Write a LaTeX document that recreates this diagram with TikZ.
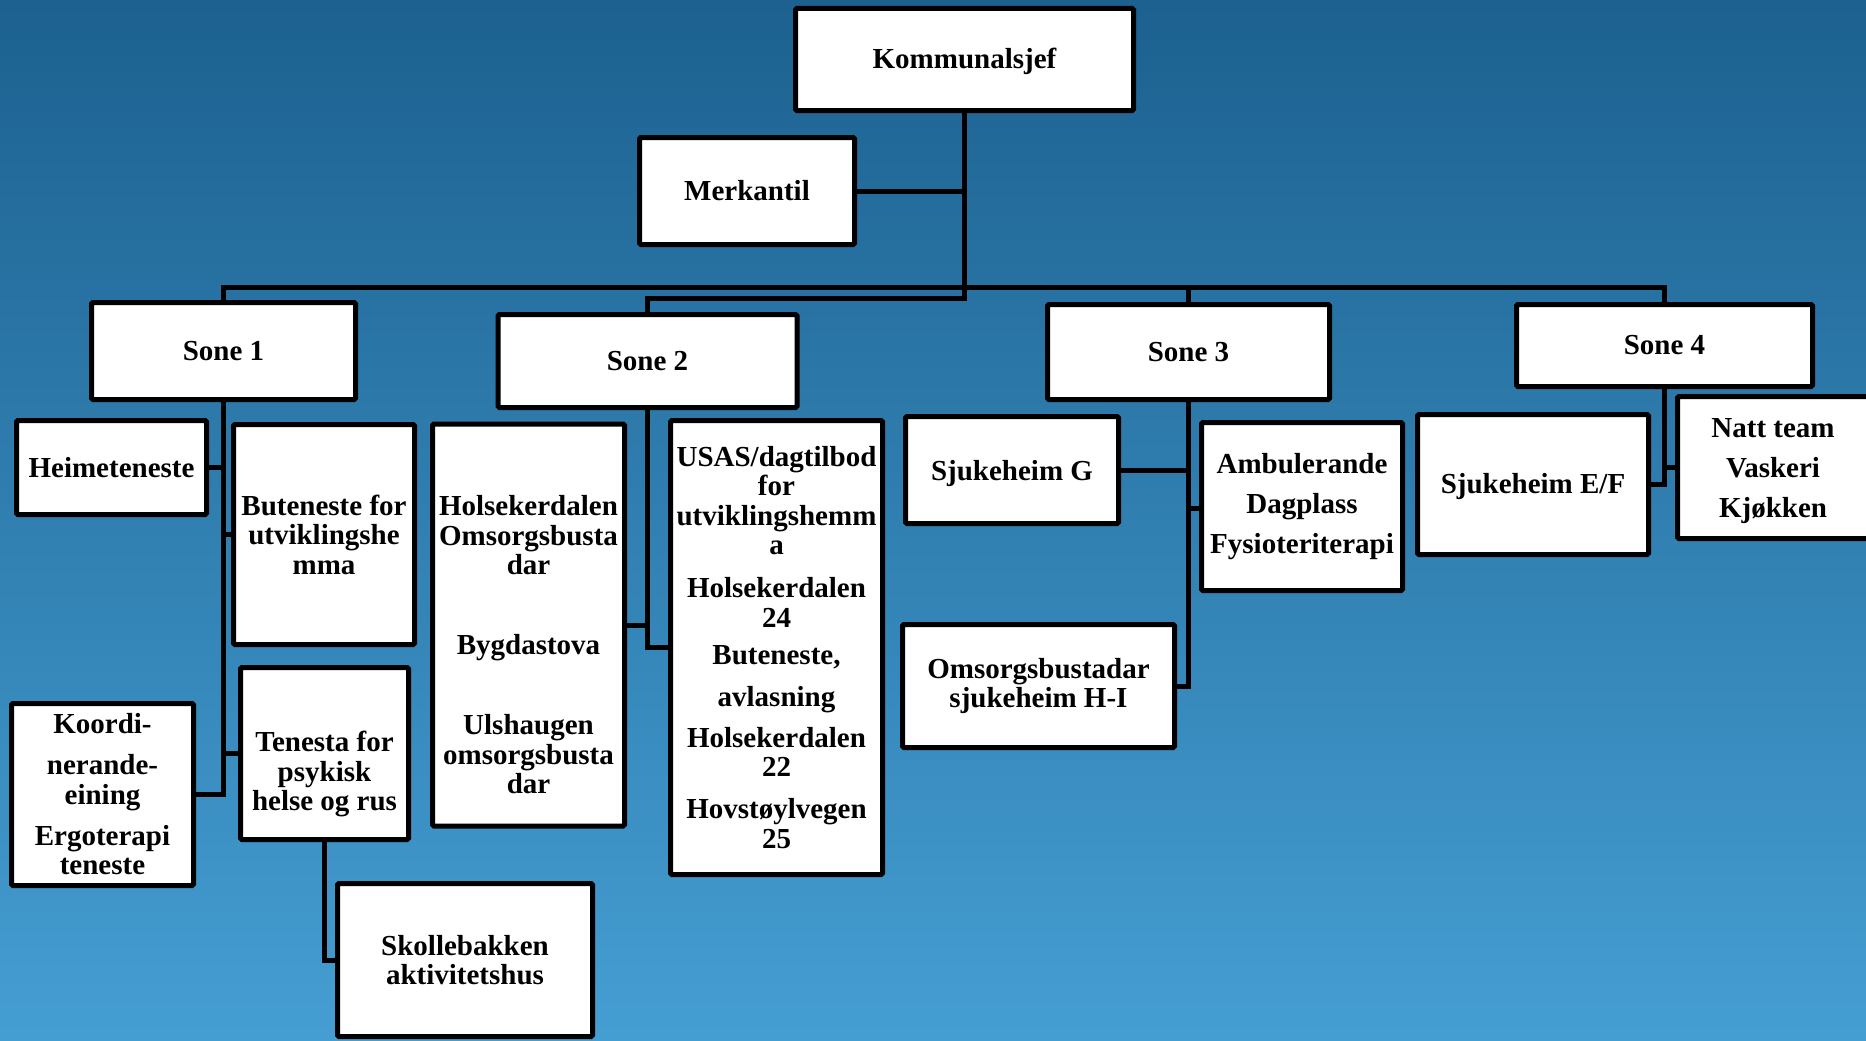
\documentclass[tikz,border=0pt]{standalone}
\usepackage{fontspec}
\setmainfont{Liberation Serif}
\definecolor{bgtop}{HTML}{1C6190}
\definecolor{bgmid}{HTML}{3283B5}
\definecolor{bgbot}{HTML}{459ED2}
\newcommand{\lift}[1]{\rule{0pt}{#1pt}}
\tikzset{
  box/.style={draw=black, fill=white, line width=5pt, rounded corners=1.5pt,
    align=center, inner sep=0pt, text=black,
    font=\fontsize{29}{29.5}\selectfont\bfseries},
  conn/.style={draw=black, line width=5pt}
}
\begin{document}
\begin{tikzpicture}[x=1pt,y=-1pt]
\useasboundingbox (0,0) rectangle (1866,1041);
\clip (0,0) rectangle (1866,1041);
\shade[top color=bgtop, middle color=bgmid, bottom color=bgbot] (0,0) rectangle (1866,1041);

\coordinate (busY) at (0,287);
\coordinate (bustwoY) at (0,298);
\coordinate (ambY) at (0,508);

% top
\node[box, minimum width=338pt, minimum height=102pt] (komm) at (964.5,59.5) {\lift{25}Kommunalsjef};
\node[box, minimum width=215pt, minimum height=107pt] (merk) at (747,191) {Merkantil};

% zones
\node[box, minimum width=264pt, minimum height=97pt] (sone1) at (223.5,351) {Sone 1};
\node[box, minimum width=299pt, minimum height=93pt] (sone2) at (647.5,361) {Sone 2};
\node[box, minimum width=282pt, minimum height=95pt] (sone3) at (1188.5,352) {Sone 3};
\node[box, minimum width=296pt, minimum height=82pt] (sone4) at (1664.5,345.5) {Sone 4};

% sone 1
\node[box, minimum width=190pt, minimum height=94pt] (heime) at (111.5,467.5) {Heimeteneste};
\node[box, minimum width=181pt, minimum height=220pt] (buten) at (324,534.5) {Buteneste for\\utviklingshe\\mma};
\node[box, minimum width=168pt, minimum height=172pt] (tenesta) at (324.5,753.5) {\lift{62}Tenesta for\\psykisk\\helse og rus};
\node[box, minimum width=182pt, minimum height=182pt] (koordi) at (102.5,794.5) {Koordi-\\[11.5pt]nerande-\\eining\\[11.5pt]Ergoterapi\\teneste};
\node[box, minimum width=255pt, minimum height=153pt] (skolle) at (465,960) {Skollebakken\\aktivitetshus};

% sone 2
\node[box, minimum width=192pt, minimum height=402pt] (holse) at (528.5,625) {\lift{60}Holsekerdalen\\Omsorgsbusta\\dar\\[50.5pt]Bygdastova\\[50.5pt]Ulshaugen\\omsorgsbusta\\dar};
\node[box, minimum width=212pt, minimum height=454pt] (usas) at (776.5,647.5) {USAS/dagtilbod\\for\\utviklingshemm\\a\\[13.5pt]Holsekerdalen\\24\\[7.5pt]Buteneste,\\[12.5pt]avlasning\\[11.5pt]Holsekerdalen\\22\\[12.5pt]Hovstøylvegen\\25};

% sone 3
\node[box, minimum width=213pt, minimum height=107pt] (sjukg) at (1012,470) {\lift{27}Sjukeheim G};
\node[box, minimum width=201pt, minimum height=168pt] (ambul) at (1302,506.5) {Ambulerande\\[10.5pt]Dagplass\\[10.5pt]Fysioteriterapi};
\node[box, minimum width=272pt, minimum height=123pt] (omsorg) at (1038.5,686) {Omsorgsbustadar\\sjukeheim H-I};

% sone 4
\node[box, minimum width=231pt, minimum height=140pt] (sjukef) at (1533,484.5) {\lift{24}Sjukeheim E/F};
\node[box, minimum width=191pt, minimum height=142pt] (natt) at (1773,467.5) {\lift{27}Natt team\\[10.5pt]Vaskeri\\[10.5pt]Kjøkken};

% connectors
\draw[conn] (merk.east) -- (merk.east -| komm.south);
\draw[conn] (komm.south) -- (komm.south |- bustwoY) -- (sone2.north |- bustwoY) -- (sone2.north);
\draw[conn] (sone1.north) -- (sone1.north |- busY) -- (sone4.north |- busY) -- (sone4.north);
\draw[conn] (sone3.north) -- (sone3.north |- busY);

\draw[conn] (sone1.south) |- (koordi.east);
\draw[conn] (heime.east) -- (heime.east -| sone1.south);
\draw[conn] (sone1.south |- buten.west) -- (buten.west);
\draw[conn] (sone1.south |- tenesta.west) -- (tenesta.west);
\draw[conn] (tenesta.south) |- (skolle.west);

\draw[conn] (sone2.south) |- (usas.west);
\draw[conn] (holse.east) -- (holse.east -| sone2.south);

\draw[conn] (sone3.south) |- (omsorg.east);
\draw[conn] (sjukg.east) -- (sjukg.east -| sone3.south);
\draw[conn] (sone3.south |- ambY) -- (ambul.west |- ambY);

\draw[conn] (sone4.south) |- (sjukef.east);
\draw[conn] (sone4.south |- natt.west) -- (natt.west);
\end{tikzpicture}
\end{document}
